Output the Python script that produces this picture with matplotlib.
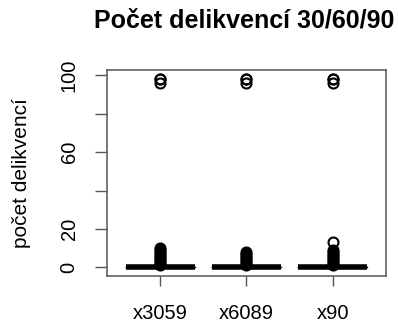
import matplotlib
matplotlib.use("Agg")
import matplotlib.pyplot as plt

plt.rcParams['font.family'] = ['Liberation Sans', 'DejaVu Sans']

groups = ["x3059", "x6089", "x90"]
# most contracts have zero delinquencies
n_zero = 60
x3059_out = [1, 2, 3, 4, 5, 6, 7, 8, 9, 10, 96, 98, 98]
x6089_out = [1, 2, 3, 4, 5, 6, 7, 8, 96, 98, 98]
x90_out = [1, 2, 3, 4, 5, 6, 7, 8, 9, 13, 96, 98, 98]
data = [[0] * n_zero + x3059_out,
        [0] * n_zero + x6089_out,
        [0] * n_zero + x90_out]

fig = plt.figure(figsize=(3.98, 3.22), dpi=100)
ax = fig.add_axes([107 / 398, 1 - 276 / 322, 279 / 398, 206 / 322])

ax.boxplot(data, positions=[1, 2, 3], widths=0.8,
           medianprops=dict(color="black", linewidth=4, solid_capstyle="butt"),
           boxprops=dict(color="black", linewidth=1),
           whiskerprops=dict(color="black", linewidth=1),
           capprops=dict(color="black", linewidth=1),
           flierprops=dict(marker="o", markerfacecolor="none", markeredgecolor="black",
                           markersize=7.2, markeredgewidth=1.5))

# dense low counts look like a solid blob in the reference
for i, vals in enumerate(data):
    low = [v for v in vals if 0 < v <= 10]
    ax.plot([i + 1] * len(low), low, "o", color="black", markersize=6, zorder=1)

ax.set_xlim(0.38, 3.62)
ax.set_ylim(-4.5, 102.8)
ax.set_xticks([1, 2, 3])
ax.set_xticklabels(groups, fontsize=14.5)
ax.set_yticks([0, 20, 40, 60, 80, 100])
ax.set_yticklabels(["0", "20", "", "60", "", "100"], rotation=90, va="center", fontsize=14.5)
ax.tick_params(axis="y", length=8.5, color="#555555", width=1, pad=12)
ax.tick_params(axis="x", length=7.5, color="#555555", width=1, pad=13)
for s in ax.spines.values():
    s.set_color("#555555")
    s.set_linewidth(1.1)

ax.set_ylabel("počet delikvencí", fontsize=15, va="center")
ax.yaxis.set_label_coords((22 - 107) / 279, 0.5)
fig.suptitle("Počet delikvencí 30/60/90", fontsize=18, fontweight="bold", x=244 / 398, y=1 - 20 / 322, va="center")

fig.savefig("out.png", dpi=100)
